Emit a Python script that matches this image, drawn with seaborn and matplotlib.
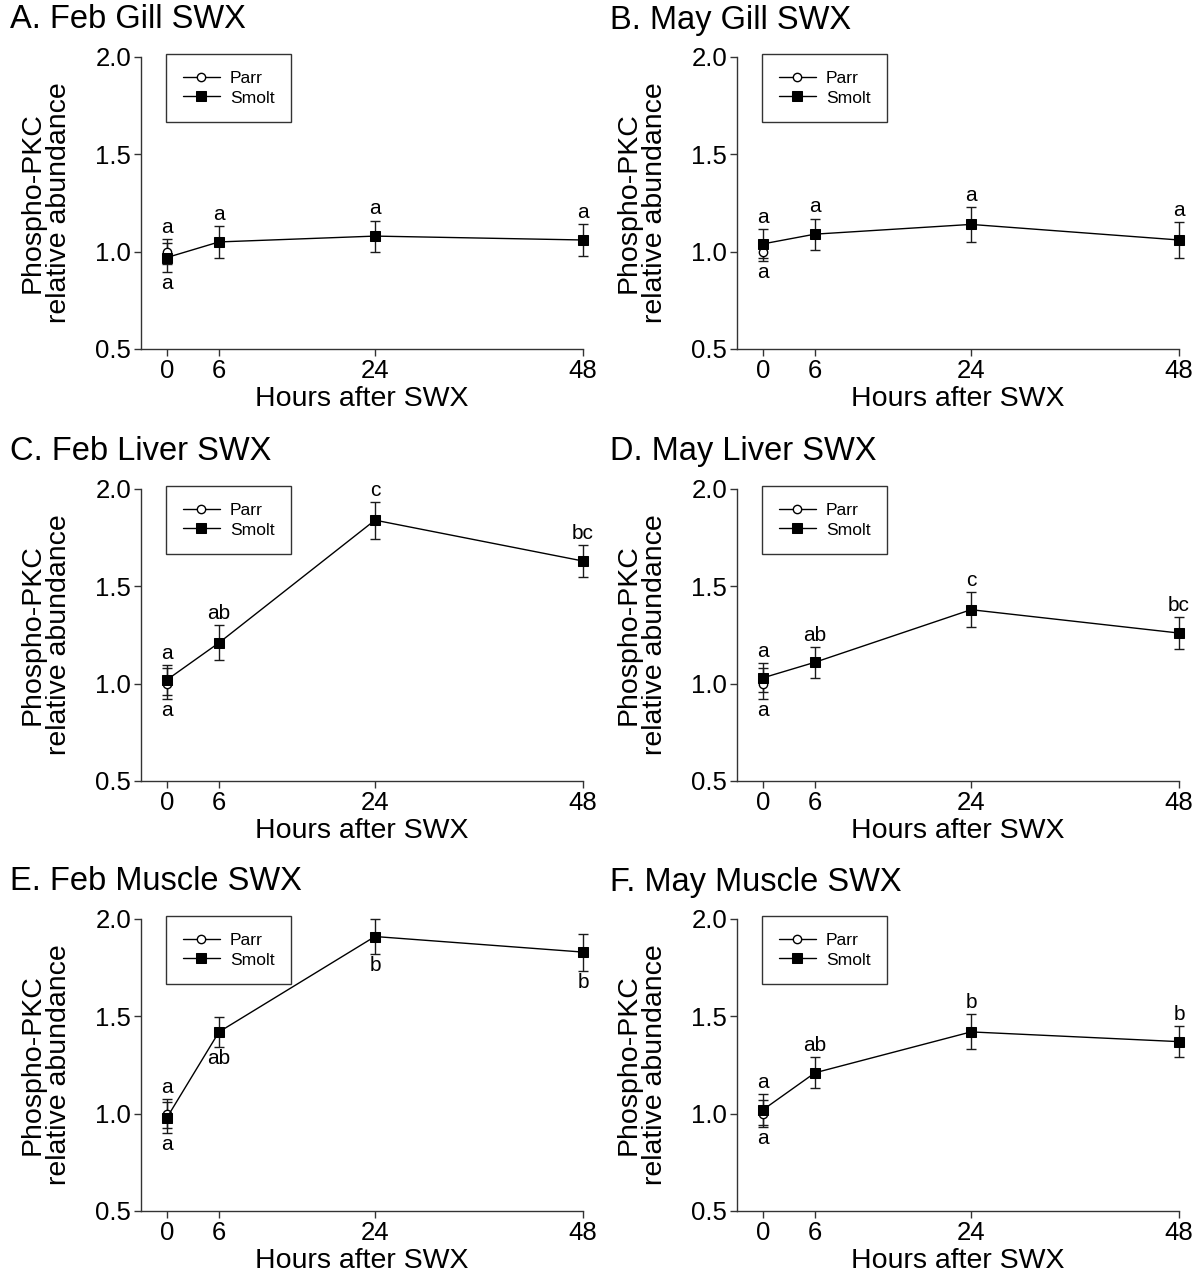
import matplotlib
matplotlib.use("Agg")
import matplotlib.pyplot as plt
import seaborn as sns
import pandas as pd

# hours after seawater exposure
hours = [0, 6, 24, 48]

titles = ["A. Feb Gill SWX", "B. May Gill SWX",
          "C. Feb Liver SWX", "D. May Liver SWX",
          "E. Feb Muscle SWX", "F. May Muscle SWX"]

# smolt means / SE per panel
smolt_A = [0.97, 1.05, 1.08, 1.06]
smolt_err_A = [0.073, 0.08, 0.08, 0.08]
smolt_B = [1.04, 1.09, 1.14, 1.06]
smolt_err_B = [0.075, 0.08, 0.09, 0.09]
smolt_C = [1.02, 1.21, 1.84, 1.63]
smolt_err_C = [0.077, 0.09, 0.095, 0.08]
smolt_D = [1.03, 1.11, 1.38, 1.26]
smolt_err_D = [0.075, 0.08, 0.09, 0.08]
smolt_E = [0.98, 1.42, 1.91, 1.83]
smolt_err_E = [0.08, 0.078, 0.09, 0.095]
smolt_F = [1.02, 1.21, 1.42, 1.37]
smolt_err_F = [0.08, 0.08, 0.09, 0.08]

# parr only sampled at hour 0
parr_mean = [1.00, 1.00, 1.00, 1.00, 1.00, 1.00]
parr_err = [0.065, 0.05, 0.08, 0.08, 0.075, 0.07]

# significance letters above / below each time point
above_A = ["a", "a", "a", "a"]
below_A = ["a", "", "", ""]
above_B = ["a", "a", "a", "a"]
below_B = ["a", "", "", ""]
above_C = ["a", "ab", "c", "bc"]
below_C = ["a", "", "", ""]
above_D = ["a", "ab", "c", "bc"]
below_D = ["a", "", "", ""]
above_E = ["a", "", "", ""]
below_E = ["a", "ab", "b", "b"]
above_F = ["a", "ab", "b", "b"]
below_F = ["a", "", "", ""]

smolt_all = [smolt_A, smolt_B, smolt_C, smolt_D, smolt_E, smolt_F]
smolt_err_all = [smolt_err_A, smolt_err_B, smolt_err_C, smolt_err_D, smolt_err_E, smolt_err_F]
above_all = [above_A, above_B, above_C, above_D, above_E, above_F]
below_all = [below_A, below_B, below_C, below_D, below_E, below_F]

sns.set_style("ticks")
plt.rcParams["font.family"] = ["Liberation Sans", "DejaVu Sans"]
plt.rcParams["text.color"] = "black"
plt.rcParams["axes.labelcolor"] = "black"
plt.rcParams["xtick.color"] = "black"
plt.rcParams["ytick.color"] = "black"

W, H = 1198, 1284
fig = plt.figure(figsize=(W / 100, H / 100), dpi=100)

col_left = [141, 737]
row_top = [57, 489, 919]
ax_w, ax_h = 442, 292

for i in range(6):
    r, c = divmod(i, 2)
    ax = fig.add_axes([col_left[c] / W, 1 - (row_top[r] + ax_h) / H, ax_w / W, ax_h / H])

    df_s = pd.DataFrame({"hour": hours, "val": smolt_all[i]})
    df_p = pd.DataFrame({"hour": [0], "val": [parr_mean[i]]})

    # error bars first
    for eb in (ax.errorbar(df_p["hour"], df_p["val"], yerr=[parr_err[i]], fmt="none",
                           ecolor="#1a1a1a", elinewidth=1, capsize=3.6, capthick=1, zorder=2),
               ax.errorbar(df_s["hour"], df_s["val"], yerr=smolt_err_all[i], fmt="none",
                           ecolor="#1a1a1a", elinewidth=1, capsize=3.6, capthick=1, zorder=2)):
        for art in eb.lines[1] + eb.lines[2]:
            art.set_clip_on(False)

    sns.lineplot(data=df_p, x="hour", y="val", ax=ax, color="black", marker="o",
                 markersize=6, markerfacecolor="white", markeredgecolor="black",
                 markeredgewidth=1, linewidth=1, label="Parr", zorder=3, clip_on=False)
    sns.lineplot(data=df_s, x="hour", y="val", ax=ax, color="black", marker="s",
                 markersize=6.5, markerfacecolor="black", markeredgecolor="black",
                 linewidth=1, label="Smolt", zorder=4, clip_on=False)

    # letters
    for j, h in enumerate(hours):
        tops = [smolt_all[i][j] + smolt_err_all[i][j]]
        bots = [smolt_all[i][j] - smolt_err_all[i][j]]
        if h == 0:
            tops.append(parr_mean[i] + parr_err[i])
            bots.append(parr_mean[i] - parr_err[i])
        if above_all[i][j]:
            ax.annotate(above_all[i][j], (h, max(tops)), xytext=(0, 1.5),
                        textcoords="offset points", ha="center", va="bottom", fontsize=15)
        if below_all[i][j]:
            ax.annotate(below_all[i][j], (h, min(bots)), xytext=(0, -1.5),
                        textcoords="offset points", ha="center", va="top", fontsize=15)

    ax.set_xlim(-3, 48)
    ax.set_ylim(0.5, 2.0)
    ax.set_xticks(hours)
    ax.set_yticks([0.5, 1.0, 1.5, 2.0])
    ax.set_yticklabels(["0.5", "1.0", "1.5", "2.0"])
    sns.despine(ax=ax)
    for s in ["left", "bottom"]:
        ax.spines[s].set_color("#333333")
        ax.spines[s].set_linewidth(1)
    ax.tick_params(axis="both", labelsize=18.5, length=5, width=1, color="#333333", pad=2)

    ax.set_xlabel("Hours after SWX", fontsize=20.5, labelpad=2)
    ax.set_ylabel("Phospho-PKC\nrelative abundance", fontsize=20.5, linespacing=1.05)
    ax.yaxis.label.set_va("center")
    ax.yaxis.set_label_coords(-0.215, 0.5)

    handles, labels = ax.get_legend_handles_labels()
    leg = ax.legend(handles, labels, loc="upper left", bbox_to_anchor=(0.057, 1.01),
                    fontsize=12.6, frameon=True, fancybox=False, edgecolor="black",
                    handlelength=2.1, handletextpad=0.6, borderpad=0.95,
                    labelspacing=0.25, borderaxespad=0)
    leg.get_frame().set_linewidth(1)

    fig.text((10 + 600 * c) / W, 1 - (row_top[r] - 37) / H, titles[i],
             fontsize=23.5, ha="left", va="center")

fig.savefig("out.png", dpi=100)
